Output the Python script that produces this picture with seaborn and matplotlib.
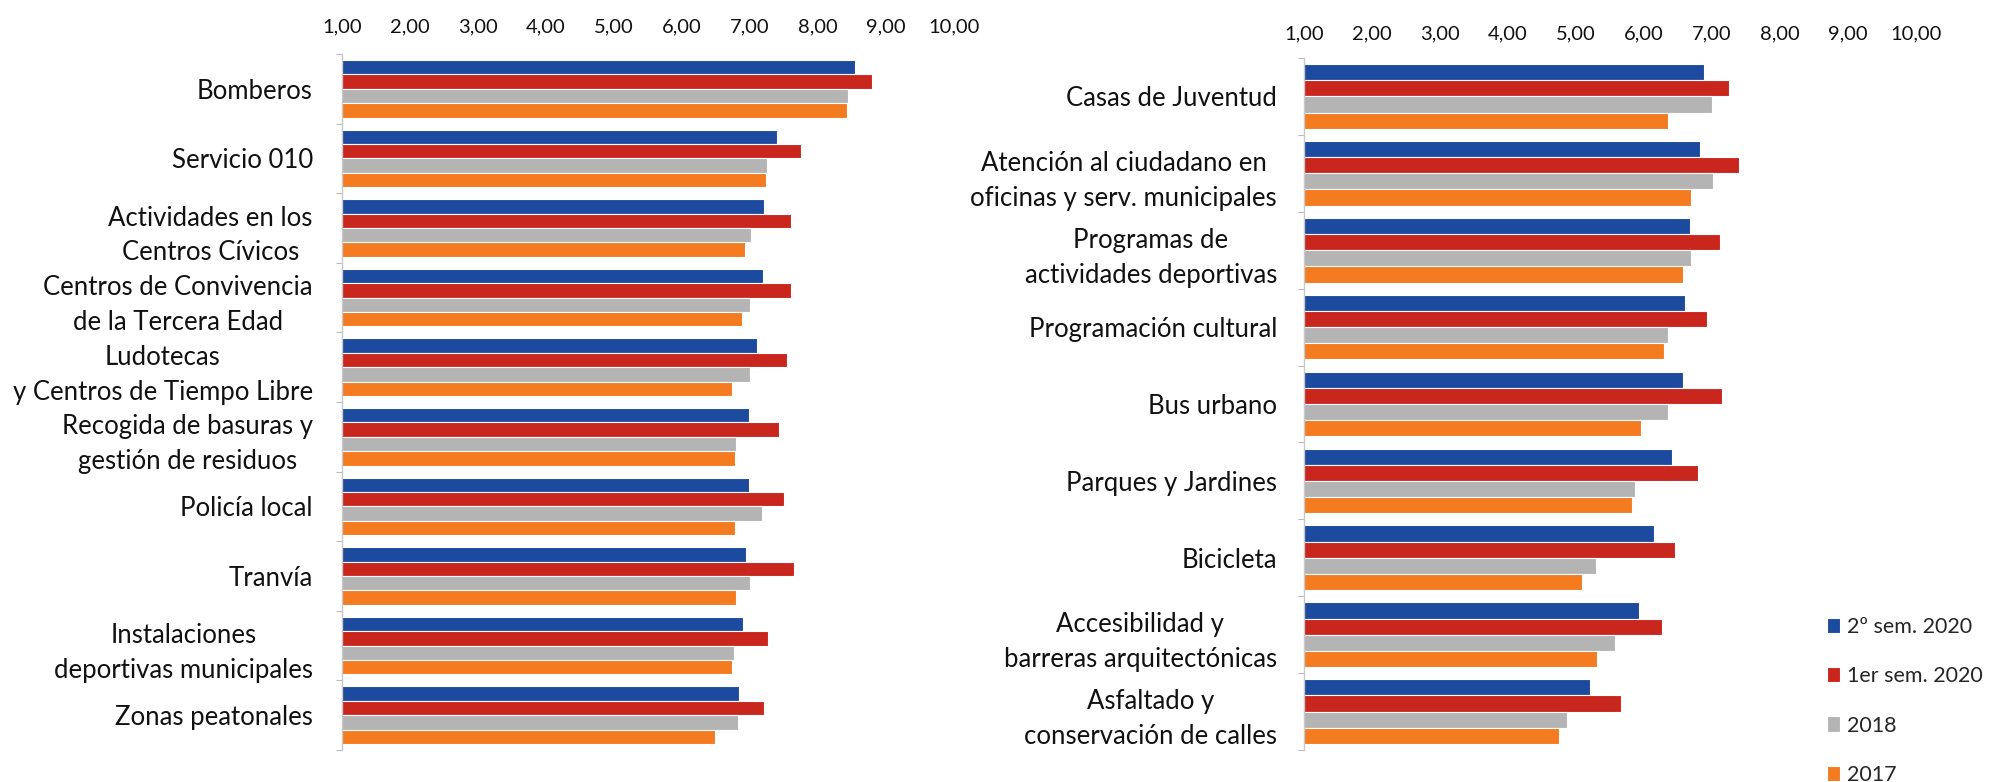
import matplotlib
matplotlib.use("Agg")
import matplotlib.pyplot as plt
import seaborn as sns
import pandas as pd
from matplotlib.ticker import FuncFormatter, FixedLocator

series = ["2º sem. 2020", "1er sem. 2020", "2018", "2017"]
colors = ["#1C4A9E", "#C9261D", "#B4B4B4", "#F47B20"]

left_cats = [
    "Bomberos",
    "Servicio 010",
    "Actividades en los\nCentros Cívicos",
    "Centros de Convivencia\nde la Tercera Edad",
    "Ludotecas\ny Centros de Tiempo Libre",
    "Recogida de basuras y\ngestión de residuos",
    "Policía local",
    "Tranvía",
    "Instalaciones\ndeportivas municipales",
    "Zonas peatonales",
]
left_s2_2020 = [8.55, 7.39, 7.21, 7.19, 7.11, 6.98, 6.98, 6.94, 6.90, 6.84]
left_s1_2020 = [8.79, 7.75, 7.61, 7.61, 7.55, 7.43, 7.50, 7.65, 7.27, 7.21]
left_2018 = [8.44, 7.25, 7.02, 7.00, 7.00, 6.80, 7.17, 7.00, 6.76, 6.82]
left_2017 = [8.42, 7.23, 6.93, 6.88, 6.74, 6.78, 6.78, 6.80, 6.74, 6.48]

right_cats = [
    "Casas de Juventud",
    "Atención al ciudadano en\noficinas y serv. municipales",
    "Programas de\nactividades deportivas",
    "Programación cultural",
    "Bus urbano",
    "Parques y Jardines",
    "Bicicleta",
    "Accesibilidad y\nbarreras arquitectónicas",
    "Asfaltado y\nconservación de calles",
]
right_s2_2020 = [6.88, 6.83, 6.67, 6.60, 6.57, 6.41, 6.15, 5.93, 5.20]
right_s1_2020 = [7.25, 7.39, 7.12, 6.93, 7.15, 6.80, 6.46, 6.26, 5.66]
right_2018 = [7.00, 7.02, 6.69, 6.36, 6.35, 5.87, 5.29, 5.58, 4.87]
right_2017 = [6.36, 6.69, 6.57, 6.29, 5.95, 5.82, 5.09, 5.31, 4.75]

x_ticks = [1, 2, 3, 4, 5, 6, 7, 8, 9, 10]


def long_df(cats, *vals):
    rows = []
    for s, v in zip(series, vals):
        for c, x in zip(cats, v):
            rows.append({"cat": c, "serie": s, "valor": x})
    return pd.DataFrame(rows)


sns.set_theme(style="white")
plt.rcParams["font.family"] = ["Lato", "DejaVu Sans"]

W, H = 2015, 782
fig = plt.figure(figsize=(W / 100, H / 100), dpi=100)
fig.patch.set_facecolor("white")

axL = fig.add_axes([342 / W, 1 - 750 / H, 612 / W, 696 / H])
axR = fig.add_axes([1304 / W, 1 - 750 / H, 612 / W, 692 / H])

dfL = long_df(left_cats, left_s2_2020, left_s1_2020, left_2018, left_2017)
dfR = long_df(right_cats, right_s2_2020, right_s1_2020, right_2018, right_2017)

pal = dict(zip(series, colors))
sns.barplot(data=dfL, y="cat", x="valor", hue="serie", hue_order=series,
            palette=pal, saturation=1, width=0.83, orient="h", ax=axL,
            legend=False, edgecolor="white", linewidth=0.8)
sns.barplot(data=dfR, y="cat", x="valor", hue="serie", hue_order=series,
            palette=pal, saturation=1, width=0.84, orient="h", ax=axR,
            legend=True, edgecolor="white", linewidth=0.8)

fmt = FuncFormatter(lambda v, p: f"{v:.2f}".replace(".", ","))

for ax, n, pad_x, pad_y in [(axL, len(left_cats), 13.5, 21), (axR, len(right_cats), 11.5, 19.5)]:
    ax.set_xlim(1, 10)
    ax.set_ylim(n - 0.5, -0.5)
    ax.set_xlabel("")
    ax.set_ylabel("")
    ax.xaxis.tick_top()
    ax.set_xticks(x_ticks)
    ax.xaxis.set_major_formatter(fmt)
    ax.tick_params(axis="x", length=0, pad=pad_x, labelsize=14.5, colors="#111111")
    ax.tick_params(axis="y", which="major", length=0, pad=pad_y, labelsize=18.5,
                   colors="#111111")
    ax.yaxis.set_minor_locator(FixedLocator([k - 0.5 for k in range(n + 1)]))
    ax.tick_params(axis="y", which="minor", length=4, width=0.8, color="#bbbbbb",
                   left=True)
    for t in ax.get_yticklabels():
        t.set_multialignment("center")
        t.set_linespacing(1.5)
    for side in ["top", "right", "bottom"]:
        ax.spines[side].set_visible(False)
    ax.spines["left"].set_color("#c8c8c8")
    ax.spines["left"].set_linewidth(1.0)
    ax.grid(False)

handles, labels = axR.get_legend_handles_labels()
axR.get_legend().remove()
fig.legend(handles, labels, loc="upper left", bbox_to_anchor=(1827 / W, 1 - 617 / H),
           frameon=False, fontsize=15.5, handlelength=0.62, handleheight=0.72,
           handletextpad=0.33, labelspacing=1.36, borderpad=0, borderaxespad=0)

fig.savefig("out.png", dpi=100, facecolor="white")
